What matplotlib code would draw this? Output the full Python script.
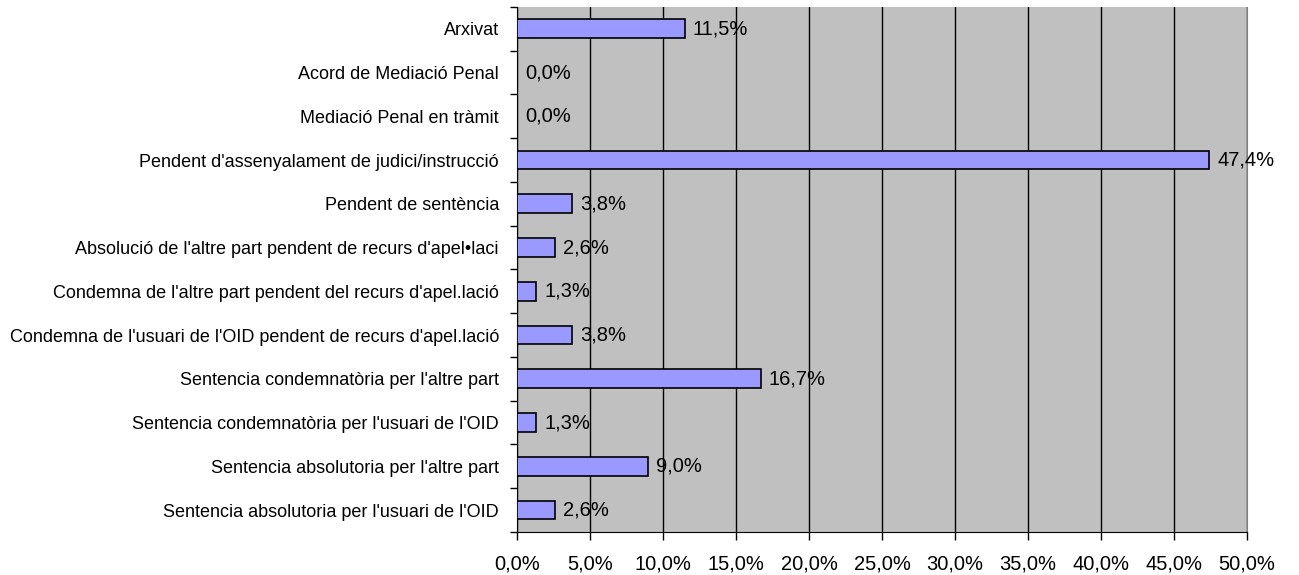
import matplotlib
matplotlib.use("Agg")
import matplotlib.pyplot as plt
from matplotlib.ticker import FuncFormatter, FixedLocator

plt.rcParams['font.family'] = ['Liberation Sans', 'DejaVu Sans']

categories = [
    "Arxivat",
    "Acord de Mediació Penal",
    "Mediació Penal en tràmit",
    "Pendent d'assenyalament de judici/instrucció",
    "Pendent de sentència",
    "Absolució de l'altre part pendent de recurs d'apel•laci",
    "Condemna de l'altre part pendent del recurs d'apel.lació",
    "Condemna de l'usuari de l'OID pendent de recurs d'apel.lació",
    "Sentencia condemnatòria per l'altre part",
    "Sentencia condemnatòria per l'usuari de l'OID",
    "Sentencia absolutoria per l'altre part",
    "Sentencia absolutoria per l'usuari de l'OID",
]
values = [11.5, 0.0, 0.0, 47.4, 3.8, 2.6, 1.3, 3.8, 16.7, 1.3, 9.0, 2.6]
x_ticks = [0, 5, 10, 15, 20, 25, 30, 35, 40, 45, 50]

fig = plt.figure(figsize=(12.99, 5.75), dpi=100)
ax = fig.add_axes([0.398, 0.075, 0.562, 0.913])
ax.set_facecolor('#C0C0C0')

n = len(categories)
pos = list(range(n))
ax.barh(pos, values, height=0.43, color='#9999FF', edgecolor='black', linewidth=1.2, zorder=3)

for p, v in zip(pos, values):
    ax.text(v + 0.55, p, "{:.1f}%".format(v).replace('.', ','), va='center', ha='left',
            fontsize=14.5, zorder=4)

ax.set_xlim(0, 50)
ax.set_ylim(n - 0.5, -0.5)
ax.xaxis.set_major_locator(FixedLocator(x_ticks))
ax.xaxis.set_major_formatter(FuncFormatter(lambda x, _: "{:.1f}%".format(x).replace('.', ',')))
ax.grid(axis='x', color='black', linewidth=1, zorder=1)

ax.set_yticks(pos)
ax.set_yticklabels(categories, fontsize=13)
ax.set_yticks([p - 0.5 for p in pos] + [n - 0.5], minor=True)
ax.tick_params(axis='y', which='major', length=0, pad=13)
ax.tick_params(axis='y', which='minor', length=5, width=1, direction='out')
ax.tick_params(axis='x', length=6, width=1, direction='out', labelsize=14.5, pad=10)

ax.spines['top'].set_visible(False)
ax.spines['right'].set_color('#808080')
ax.spines['left'].set_color('black')
ax.spines['bottom'].set_color('black')

fig.savefig('out.png', dpi=100)
